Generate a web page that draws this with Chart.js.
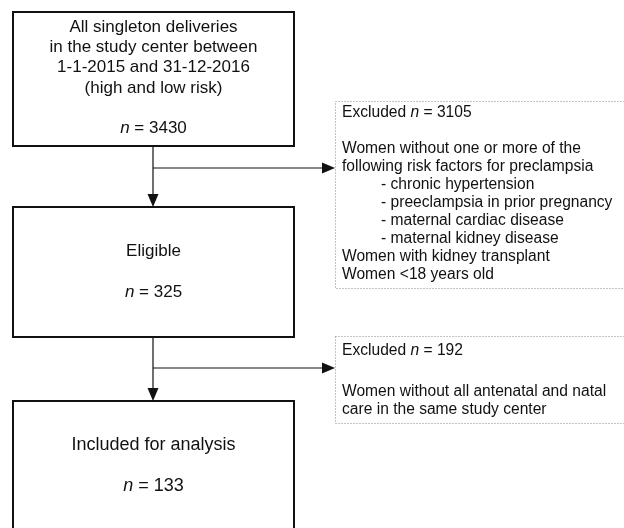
<!DOCTYPE html>
<html>
<head>
<meta charset="utf-8">
<script src="https://cdn.jsdelivr.net/npm/chart.js@4"></script>
<style>
  body { margin: 0; background: #fff; }
  canvas { display: block; }
</style>
</head>
<body>
<canvas id="flow" width="624" height="528"></canvas>
<script>
// flow chart content
var stageTitles = [
    ['All singleton deliveries', 'in the study center between', '1-1-2015 and 31-12-2016', '(high and low risk)'],
    ['Eligible'],
    ['Included for analysis']
];
var stageCounts = [3430, 325, 133];
var excludedCounts = [3105, 192];
var excludedReasons = [
    [
        'Women without one or more of the',
        'following risk factors for preclampsia',
        '\t- chronic hypertension',
        '\t- preeclampsia in prior pregnancy',
        '\t- maternal cardiac disease',
        '\t- maternal kidney disease',
        'Women with kidney transplant',
        'Women <18 years old'
    ],
    [
        'Women without all antenatal and natal',
        'care in the same study center'
    ]
];

// layout in axis units (the axes run 0..624 and 0..528 like the page)
var stageBox = [
    { left: 13, right: 294, top: 12, bottom: 146, firstLine: 27, step: 20.3, countAt: 128, size: 17 },
    { left: 13, right: 294, top: 207, bottom: 337, firstLine: 251, step: 20, countAt: 292, size: 17 },
    { left: 13, right: 294, top: 401, bottom: 540, firstLine: 445, step: 20, countAt: 486, size: 18 }
];
var excludedBox = [
    { left: 335, right: 640, top: 101, bottom: 288, branchY: 168, headAt: 113, firstLine: 149, step: 18 },
    { left: 335, right: 640, top: 336, bottom: 423, branchY: 368, headAt: 351, firstLine: 392, step: 18 }
];
var stemX = 153;
var fontFamily = '"Liberation Sans", Arial, sans-serif';

function drawRuns(ctx, runs, x, y, size, align) {
    var total = 0;
    runs.forEach(function (r) {
        ctx.font = (r.italic ? 'italic ' : '') + size + 'px ' + fontFamily;
        r.w = ctx.measureText(r.text).width;
        total += r.w;
    });
    var cx = align === 'center' ? x - total / 2 : x;
    ctx.textAlign = 'left';
    ctx.textBaseline = 'middle';
    runs.forEach(function (r) {
        ctx.font = (r.italic ? 'italic ' : '') + size + 'px ' + fontFamily;
        ctx.fillText(r.text, cx, y);
        cx += r.w;
    });
}

function countRuns(prefix, n) {
    return [{ text: prefix }, { text: 'n', italic: true }, { text: ' = ' + n }];
}

function arrowHead(ctx, x, y, dir) {
    ctx.beginPath();
    if (dir === 'down') {
        ctx.moveTo(x, y);
        ctx.lineTo(x - 5.5, y - 13);
        ctx.lineTo(x + 5.5, y - 13);
    } else {
        ctx.moveTo(x, y);
        ctx.lineTo(x - 13, y - 5.5);
        ctx.lineTo(x - 13, y + 5.5);
    }
    ctx.closePath();
    ctx.fill();
}

var flowPlugin = {
    id: 'flow',
    afterDraw: function (chart) {
        var ctx = chart.ctx;
        var sx = chart.scales.x, sy = chart.scales.y;
        var px = function (v) { return sx.getPixelForValue(v); };
        var py = function (v) { return sy.getPixelForValue(v); };
        ctx.save();
        ctx.fillStyle = '#111';
        ctx.strokeStyle = '#111';

        // main boxes
        stageTitles.forEach(function (lines, i) {
            var b = stageBox[i];
            ctx.lineWidth = 2;
            ctx.setLineDash([]);
            ctx.strokeRect(px(b.left), py(b.top), px(b.right) - px(b.left), py(b.bottom) - py(b.top));
            var mid = px((b.left + b.right) / 2);
            lines.forEach(function (t, k) {
                drawRuns(ctx, [{ text: t }], mid, py(b.firstLine + k * b.step), b.size, 'center');
            });
            drawRuns(ctx, countRuns('', stageCounts[i]), mid, py(b.countAt), b.size, 'center');
        });

        // connectors
        ctx.lineWidth = 1.2;
        for (var i = 0; i < stageBox.length - 1; i++) {
            var from = stageBox[i], to = stageBox[i + 1], ex = excludedBox[i];
            ctx.beginPath();
            ctx.moveTo(px(stemX), py(from.bottom));
            ctx.lineTo(px(stemX), py(to.top) - 12);
            ctx.moveTo(px(stemX), py(ex.branchY));
            ctx.lineTo(px(ex.left) - 12, py(ex.branchY));
            ctx.stroke();
            arrowHead(ctx, px(stemX), py(to.top), 'down');
            arrowHead(ctx, px(ex.left), py(ex.branchY), 'right');
        }

        // excluded boxes
        excludedBox.forEach(function (b, i) {
            ctx.save();
            ctx.strokeStyle = '#888';
            ctx.lineWidth = 1;
            ctx.setLineDash([1, 2]);
            ctx.strokeRect(px(b.left) + 0.5, py(b.top) + 0.5, px(b.right) - px(b.left), py(b.bottom) - py(b.top));
            ctx.restore();
            var tx = px(b.left + 7);
            drawRuns(ctx, countRuns('Excluded ', excludedCounts[i]), tx, py(b.headAt), 15.6, 'left');
            excludedReasons[i].forEach(function (t, k) {
                var indent = t.charAt(0) === '\t';
                drawRuns(ctx, [{ text: indent ? t.slice(1) : t }], indent ? tx + 39 : tx, py(b.firstLine + k * b.step), 15.6, 'left');
            });
        });
        ctx.restore();
    }
};

new Chart(document.getElementById('flow'), {
    type: 'scatter',
    data: { datasets: [{ data: [], pointRadius: 0 }] },
    options: {
        responsive: false,
        animation: false,
        devicePixelRatio: 1,
        layout: { padding: 0 },
        plugins: { legend: { display: false }, tooltip: { enabled: false } },
        scales: {
            x: { type: 'linear', min: 0, max: 624, display: false },
            y: { type: 'linear', min: 0, max: 528, reverse: true, display: false }
        }
    },
    plugins: [flowPlugin]
});
</script>
</body>
</html>
